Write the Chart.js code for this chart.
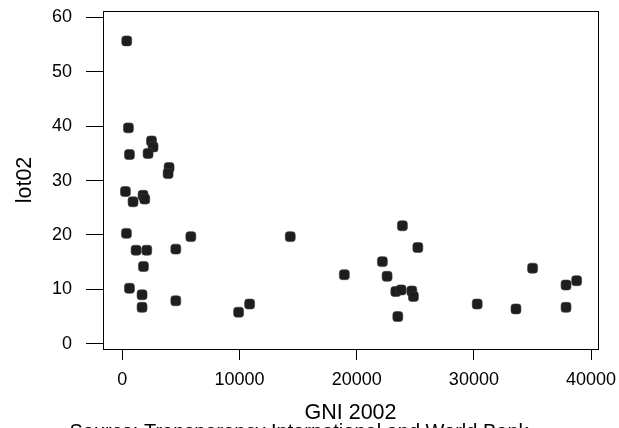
<!DOCTYPE html>
<html><head><meta charset="utf-8">
<script src="https://cdn.jsdelivr.net/npm/chart.js@4/dist/chart.umd.min.js"></script>
<style>html,body{margin:0;padding:0;background:#fff}#wrap{width:619px;height:428px;position:relative}</style>
</head><body><div id="wrap"><canvas id="c" width="619" height="428"></canvas></div>
<script>
const gni = [376, 521, 607, 265, 914, 1769, 1914, 2487, 2623, 2196, 3990, 3905, 350, 1171, 2085, 4563, 5845, 14330, 1803, 607, 1683, 1683, 4563, 9921, 10861, 18944, 23900, 25216, 22191, 22593, 23336, 23789, 24703, 24840, 23507, 30283, 33590, 35008, 37862, 38767, 37862];
const lot02 = [55.7, 39.7, 34.8, 28.0, 26.1, 27.3, 26.6, 37.3, 36.2, 35.0, 32.4, 31.3, 20.3, 17.2, 17.2, 17.4, 19.7, 19.7, 14.2, 10.2, 9.0, 6.7, 7.9, 5.8, 7.3, 12.7, 21.7, 17.7, 15.1, 12.4, 9.6, 9.9, 9.7, 8.7, 5.0, 7.3, 6.4, 13.9, 10.8, 11.6, 6.7];
const xTicks = [0, 10000, 20000, 30000, 40000];
const yTicks = [0, 10, 20, 30, 40, 50, 60];
const xTitle = 'GNI 2002';
const yTitle = 'lot02';
const sourceNote = 'Source: Transparency International and World Bank';

const FONT = 'Liberation Sans, Arial, sans-serif';

const boxPlugin = {
  id: 'box',
  beforeDatasetsDraw(chart) {
    const a = chart.chartArea, ctx = chart.ctx;
    ctx.save();
    ctx.strokeStyle = '#000';
    ctx.lineWidth = 1;
    ctx.strokeRect(Math.round(a.left) + 0.5, Math.round(a.top) + 0.5, Math.round(a.right - a.left), Math.round(a.bottom - a.top));
    ctx.restore();
  }
};

new Chart(document.getElementById('c'), {
  type: 'scatter',
  data: {
    datasets: [{
      data: gni.map((g, i) => ({x: g, y: lot02[i]})),
      pointStyle: 'rectRounded',
      pointRadius: 5.8,
      pointHoverRadius: 5.8,
      backgroundColor: '#1e1e1e',
      borderColor: '#3a3a3a',
      borderWidth: 0.6
    }]
  },
  options: {
    responsive: false,
    animation: false,
    devicePixelRatio: 1,
    layout: {padding: {top: 11, right: 21, left: 0, bottom: 0}},
    plugins: {
      legend: {display: false},
      tooltip: {enabled: false},
      title: {
        display: true, position: 'bottom', text: sourceNote, color: '#000',
        font: {family: FONT, size: 20, weight: 'normal', lineHeight: 1.2},
        padding: {top: 0, bottom: -16}
      }
    },
    scales: {
      x: {
        type: 'linear', min: -1650, max: 40590,
        afterBuildTicks: s => { s.ticks = xTicks.map(v => ({value: v})); },
        afterFit: s => { s.height = 71; s.paddingLeft = 0; s.paddingRight = 0; },
        grid: {display: true, drawOnChartArea: false, drawTicks: true, tickLength: 11, color: '#000', lineWidth: 1},
        border: {display: false},
        ticks: {padding: 9, color: '#000', font: {family: FONT, size: 18}, maxRotation: 0, autoSkip: false, callback: v => String(v)},
        title: {display: true, text: xTitle, color: '#000', font: {family: FONT, size: 21.5}, padding: {top: 0, bottom: -6}}
      },
      y: {
        type: 'linear', min: -0.97, max: 61.2,
        afterBuildTicks: s => { s.ticks = yTicks.map(v => ({value: v})); },
        afterFit: s => { s.width = 103; s.paddingTop = 0; s.paddingBottom = 0; },
        grid: {display: true, drawOnChartArea: false, drawTicks: true, tickLength: 17, color: '#000', lineWidth: 1},
        border: {display: false},
        ticks: {padding: 14, color: '#000', font: {family: FONT, size: 18}, autoSkip: false, callback: v => String(v)},
        title: {display: true, text: yTitle, color: '#000', font: {family: FONT, size: 21.5}, padding: {top: 12, bottom: 0}}
      }
    }
  },
  plugins: [boxPlugin]
});
</script>
</body></html>
